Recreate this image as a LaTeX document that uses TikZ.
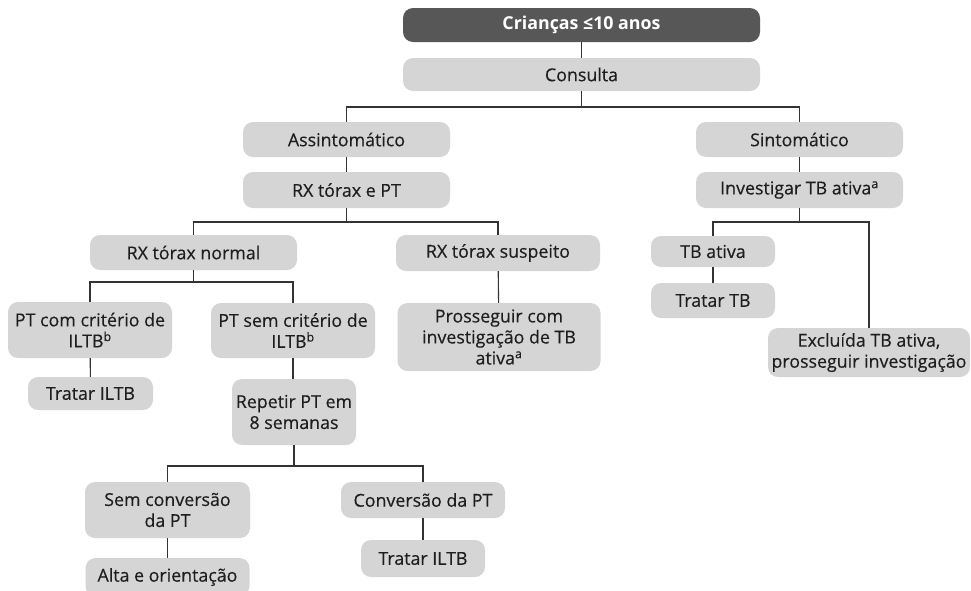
\documentclass[tikz,border=0pt]{standalone}
\usepackage{fontspec}
\setmainfont{Open Sans}
\newfontfamily\boxfont{Open Sans}[FakeBold=0.3]
\begin{document}
\definecolor{boxgray}{HTML}{D5D5D5}
\definecolor{headgray}{HTML}{575757}
\definecolor{linegray}{HTML}{333333}
\definecolor{txt}{HTML}{1E1E1E}
\begin{tikzpicture}[x=1pt,y=-1pt,
  every node/.style={font=\boxfont\fontsize{17.8}{21}\selectfont, text=txt},
  box/.style={fill=boxgray, rounded corners=10pt, align=center, inner sep=0pt},
  headbox/.style={box, fill=headgray, text=white, font=\fontsize{17.8}{21}\selectfont\bfseries},
  link/.style={draw=linegray, line width=1.1pt}]
\useasboundingbox (0,0) rectangle (971,590);

% top level
\node[headbox, minimum width=357, minimum height=34] (top) at (581.5,25) {Crianças ≤10 anos};
\node[box, minimum width=357, minimum height=33] (cons) at (581.5,74.5) {Consulta};

% asymptomatic branch
\node[box, minimum width=207, minimum height=35] (asym) at (346.5,139.5) {Assintomático};
\node[box, minimum width=207, minimum height=36] (rxpt) at (346.5,190) {RX tórax e PT};
\node[box, minimum width=207, minimum height=35] (rxn) at (193.5,252.5) {RX tórax normal};
\node[box, minimum width=204, minimum height=36] (rxs) at (498,253) {RX tórax suspeito};
\node[box, minimum width=164, minimum height=56] (ptcom) at (90,330) {PT com critério de\\ILTB\textsuperscript{b}};
\node[box, minimum width=125, minimum height=33] (trat1) at (90.5,393.5) {Tratar ILTB};
\node[box, minimum width=164, minimum height=55] (ptsem) at (293,330.5) {PT sem critério de\\ILTB\textsuperscript{b}};
\node[box, minimum width=124, minimum height=66] (rep) at (294,412) {Repetir PT em\\8 semanas};
\node[box, minimum width=165, minimum height=56] (semc) at (167.5,510) {Sem conversão\\da PT};
\node[box, minimum width=164, minimum height=38] (alta) at (167.5,577) {Alta e orientação};
\node[box, minimum width=164, minimum height=36] (conv) at (423,500) {Conversão da PT};
\node[box, minimum width=124, minimum height=37] (trat2) at (423,558.5) {Tratar ILTB};
\node[box, minimum width=203, minimum height=68] (pross) at (499,337) {Prosseguir com\\investigação de TB\\ativa\textsuperscript{a}};

% symptomatic branch
\node[box, minimum width=207, minimum height=35] (sint) at (799.5,139.5) {Sintomático};
\node[box, minimum width=207, minimum height=36] (invtb) at (799.5,190) {Investigar TB ativa\textsuperscript{a}};
\node[box, minimum width=124, minimum height=31] (tbat) at (713,251.5) {TB ativa};
\node[box, minimum width=124, minimum height=35] (trtb) at (713,300.5) {Tratar TB};
\node[box, minimum width=202, minimum height=49] (excl) at (869,352.5) {Excluída TB ativa,\\prosseguir investigação};

% connectors
\draw[link] (top) -- (cons);
\draw[link] (cons.south) -- (cons.south |- 0,107) -| (asym.north);
\draw[link] (cons.south |- 0,107) -| (sint.north);
\draw[link] (asym) -- (rxpt);
\draw[link] (rxpt.south) -- (rxpt.south |- 0,222) -| (rxn.north);
\draw[link] (rxpt.south |- 0,222) -| (rxs.north);
\draw[link] (rxs) -- (pross);
\draw[link] (rxn.south) -- (rxn.south |- 0,282) -| (ptcom.north);
\draw[link] (rxn.south |- 0,282) -| (ptsem.north);
\draw[link] (ptcom) -- (trat1);
\draw[link] (ptsem) -- (ptsem |- rep.north);
\draw[link] (rep.south) -- (rep.south |- 0,466) -| (semc.north);
\draw[link] (rep.south |- 0,466) -| (conv.north);
\draw[link] (semc) -- (alta);
\draw[link] (conv) -- (trat2);
\draw[link] (sint) -- (invtb);
\draw[link] (invtb.south) -- (invtb.south |- 0,222) -| (tbat.north);
\draw[link] (invtb.south |- 0,222) -| (excl.north);
\draw[link] (tbat) -- (trtb);
\end{tikzpicture}
\end{document}
